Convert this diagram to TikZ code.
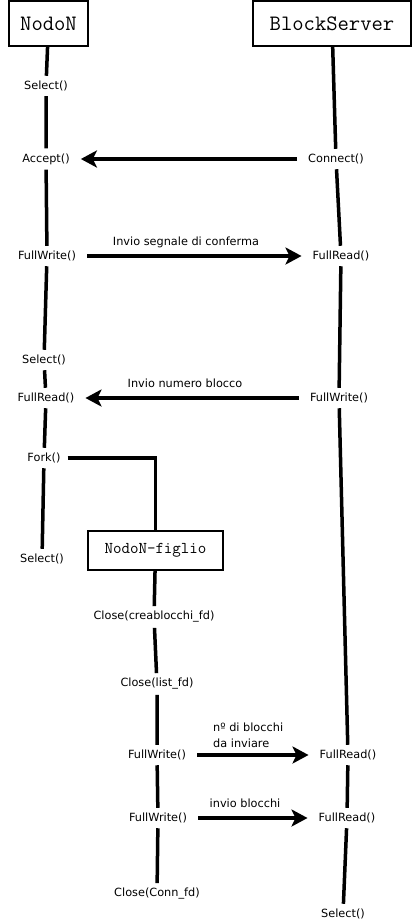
\documentclass[tikz,border=0pt]{standalone}
\usepackage{fontspec}
\setmainfont{DejaVu Sans}
\usetikzlibrary{arrows.meta}
\begin{document}
\begin{tikzpicture}[x=1pt,y=-1pt,
  actor/.style={draw,line width=1.5pt,inner sep=0pt,font=\ttfamily\fontsize{22}{24}\selectfont},
  lbl/.style={inner xsep=2pt,inner ysep=5pt,font=\fontsize{11.3}{13}\selectfont},
  life/.style={line width=3.5pt},
  msg/.style={line width=4pt,shorten <=9pt,shorten >=9pt,-{Stealth[length=16pt,width=17pt,inset=4pt]}},
  note/.style={font=\fontsize{11.3}{13}\selectfont,inner sep=0pt}]
\useasboundingbox (0,0) rectangle (412,922);
% actors
\node[actor,minimum width=79pt,minimum height=45pt] (nodo) at (48.5,23.5) {NodoN};
\node[actor,minimum width=158pt,minimum height=45pt] (bs) at (332,23.5) {BlockServer};
\node[actor,font=\ttfamily\fontsize{16.5}{18}\selectfont,minimum width=135pt,minimum height=39pt] (child) at (155.5,550.5) {NodoN-figlio};
% NodoN labels
\node[lbl] (sel1) at (46,86) {Select()};
\node[lbl] (acc) at (46,159) {Accept()};
\node[lbl] (fw1) at (47,256) {FullWrite()};
\node[lbl] (sel2) at (44,360) {Select()};
\node[lbl] (fr1) at (46,398) {FullRead()};
\node[lbl] (fork) at (44,458) {Fork()};
\node[lbl] (sel3) at (42,559) {Select()};
% BlockServer labels
\node[lbl] (conn) at (336,159) {Connect()};
\node[lbl] (sfr1) at (341,256) {FullRead()};
\node[lbl] (sfw) at (339,398) {FullWrite()};
\node[lbl] (sfr2) at (348,755) {FullRead()};
\node[lbl] (sfr3) at (347,818) {FullRead()};
\node[lbl] (ssel) at (343,914) {Select()};
% child labels
\node[lbl] (cl1) at (154,617) {Close(creablocchi\_fd)};
\node[lbl] (cl2) at (157,684) {Close(list\_fd)};
\node[lbl] (cfw1) at (157,755) {FullWrite()};
\node[lbl] (cfw2) at (158,818) {FullWrite()};
\node[lbl] (cl3) at (157,894) {Close(Conn\_fd)};
% lifelines
\draw[life] (nodo) -- (sel1) -- (acc) -- (fw1) -- (sel2) -- (fr1) -- (fork) -- (sel3);
\draw[life] (bs) -- (conn) -- (sfr1) -- (sfw) -- (sfr2) -- (sfr3) -- (ssel);
\draw[life] (child) -- (cl1) -- (cl2) -- (cfw1) -- (cfw2) -- (cl3);
\draw[life,shorten <=5pt] (fork) -| (child);
% messages
\draw[msg] (conn) -- (acc);
\draw[msg] (fw1) -- (sfr1);
\draw[msg] (sfw) -- (fr1);
\draw[msg] (cfw1) -- (sfr2);
\draw[msg] (cfw2) -- (sfr3);
% message texts
\node[note] (t1) at (186,242) {Invio segnale di conferma};
\node[note] (t2) at (185,383) {Invio numero blocco};
\node[note,align=left,anchor=west,font=\fontsize{11.3}{16}\selectfont] (t3) at (213,735) {nº di blocchi\\da inviare};
\node[note] (t4) at (245,803) {invio blocchi};
\end{tikzpicture}
\end{document}
